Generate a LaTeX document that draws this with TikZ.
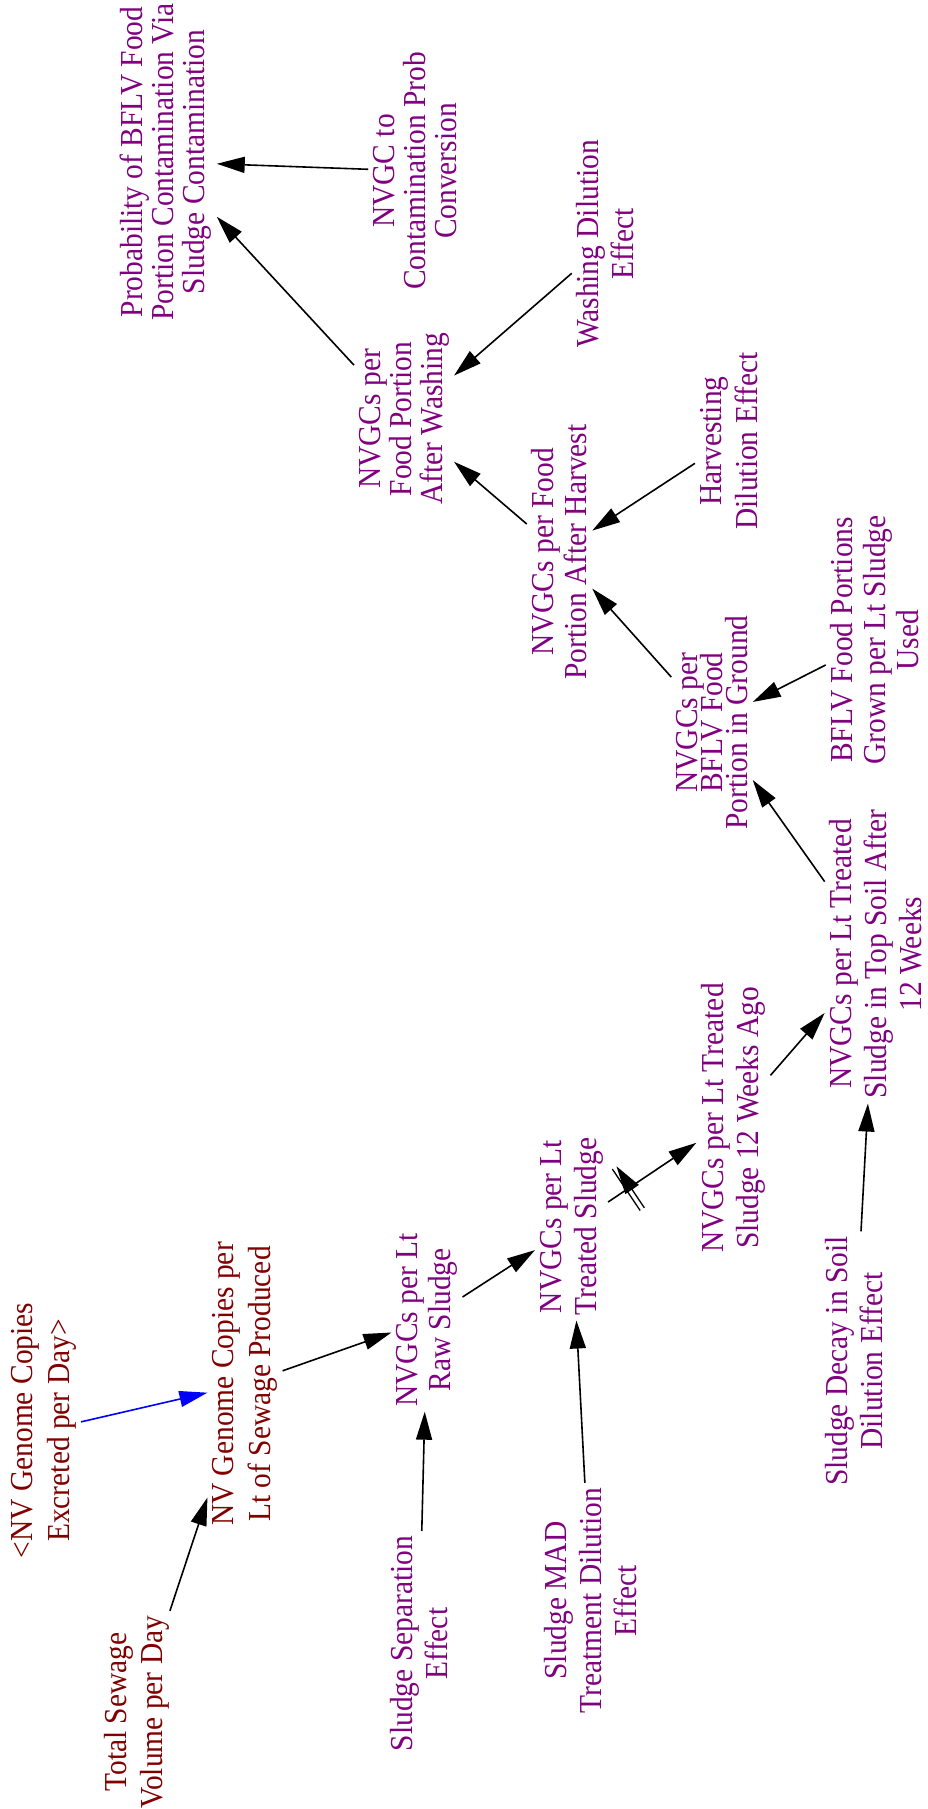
\documentclass[tikz,border=0pt]{standalone}
\usepackage{fontspec}
\setmainfont[FakeStretch=0.92]{Liberation Serif}
\usetikzlibrary{arrows.meta,decorations.markings}
\definecolor{auxpurple}{RGB}{128,0,128}
\definecolor{srcred}{RGB}{128,0,0}
\definecolor{shadowblue}{RGB}{0,0,255}
\begin{document}
\lineskiplimit=-50pt\relax
\begin{tikzpicture}[x=1pt,y=-1pt,
  var/.style={rotate=90, align=center, inner sep=0pt, outer sep=5pt,
    text=auxpurple, font=\fontsize{32}{#1}\selectfont},
  var/.default=35,
  src/.style={var=#1, text=srcred},
  src/.default=37,
  conn/.style={draw=black, line width=1.6pt, -{Triangle[length=28pt,width=16pt]}},
  shadowconn/.style={conn, draw=shadowblue, -{Triangle[length=28pt,width=16pt,fill=shadowblue]}},
  delaymark/.style={postaction={decorate, decoration={markings,
    mark=at position 0.23 with {\draw[line width=1.3pt] (-2.5pt,-25pt) -- (-2.5pt,25pt) (2.5pt,-25pt) -- (2.5pt,25pt);}}}}
]
\useasboundingbox (0,0) rectangle (928,1809);

% sewage side
\node[src]     (excr)  at (43.5,1430.5) {<NV Genome Copies\\Excreted per Day>};
\node[src=36]  (tsv)   at (136.5,1712)  {Total Sewage\\Volume per Day};
\node[src]     (nvlt)  at (245,1384)    {NV Genome Copies per\\Lt of Sewage Produced};

% sludge chain
\node[var=33]  (raw)   at (427,1320)    {NVGCs per Lt\\Raw Sludge};
\node[var]     (sep)   at (419,1643.5)  {Sludge Separation\\Effect};
\node[var]     (treat) at (571.5,1226.5){NVGCs per Lt\\Treated Sludge};
\node[var]     (mad)   at (591,1600.5)  {Sludge MAD\\Treatment Dilution\\Effect};
\node[var]     (ago)   at (733.4,1118)  {NVGCs per Lt Treated\\Sludge 12 Weeks Ago};
\node[var]     (decay) at (854,1361)    {Sludge Decay in Soil\\Dilution Effect};
\node[var]     (soil)  at (876,954)     {NVGCs per Lt Treated\\Sludge in Top Soil After\\12 Weeks};

% food chain
\node[var=25]  (grnd)  at (712,722.6)   {NVGCs per\\BFLV Food\\Portion in Ground};
\node[var=33]  (port)  at (875,640)     {BFLV Food Portions\\Grown per Lt Sludge\\Used};
\node[var=33]  (harv)  at (559.5,552)   {NVGCs per Food\\Portion After Harvest};
\node[var=36.7](hdil)  at (729,441)     {Harvesting\\Dilution Effect};
\node[var=31]  (wash)  at (404,419)     {NVGCs per\\Food Portion\\After Washing};
\node[var]     (wdil)  at (605.5,244)   {Washing Dilution\\Effect};
\node[var=31]  (conv)  at (415,171)     {NVGC to\\Contamination Prob\\Conversion};
\node[var=31]  (prob)  at (166,162)     {Probability of BFLV Food\\Portion Contamination Via\\Sludge Contamination};

% links
\draw[shadowconn] (excr) -- (nvlt);
\draw[conn] (tsv) -- (nvlt);
\draw[conn] (nvlt) -- (raw);
\draw[conn] (sep) -- (raw);
\draw[conn] (raw) -- (treat);
\draw[conn] (mad) -- (treat);
\draw[conn, delaymark] (treat) -- (ago);
\draw[conn] (ago) -- (soil);
\draw[conn] (decay) -- (soil);
\draw[conn] (soil) -- (grnd);
\draw[conn] (port) -- (grnd);
\draw[conn] (grnd) -- (harv);
\draw[conn] (hdil) -- (harv);
\draw[conn] (harv) -- (wash);
\draw[conn] (wdil) -- (wash);
\draw[conn] (wash) -- (prob);
\draw[conn] (conv) -- (prob);
\end{tikzpicture}
\end{document}
